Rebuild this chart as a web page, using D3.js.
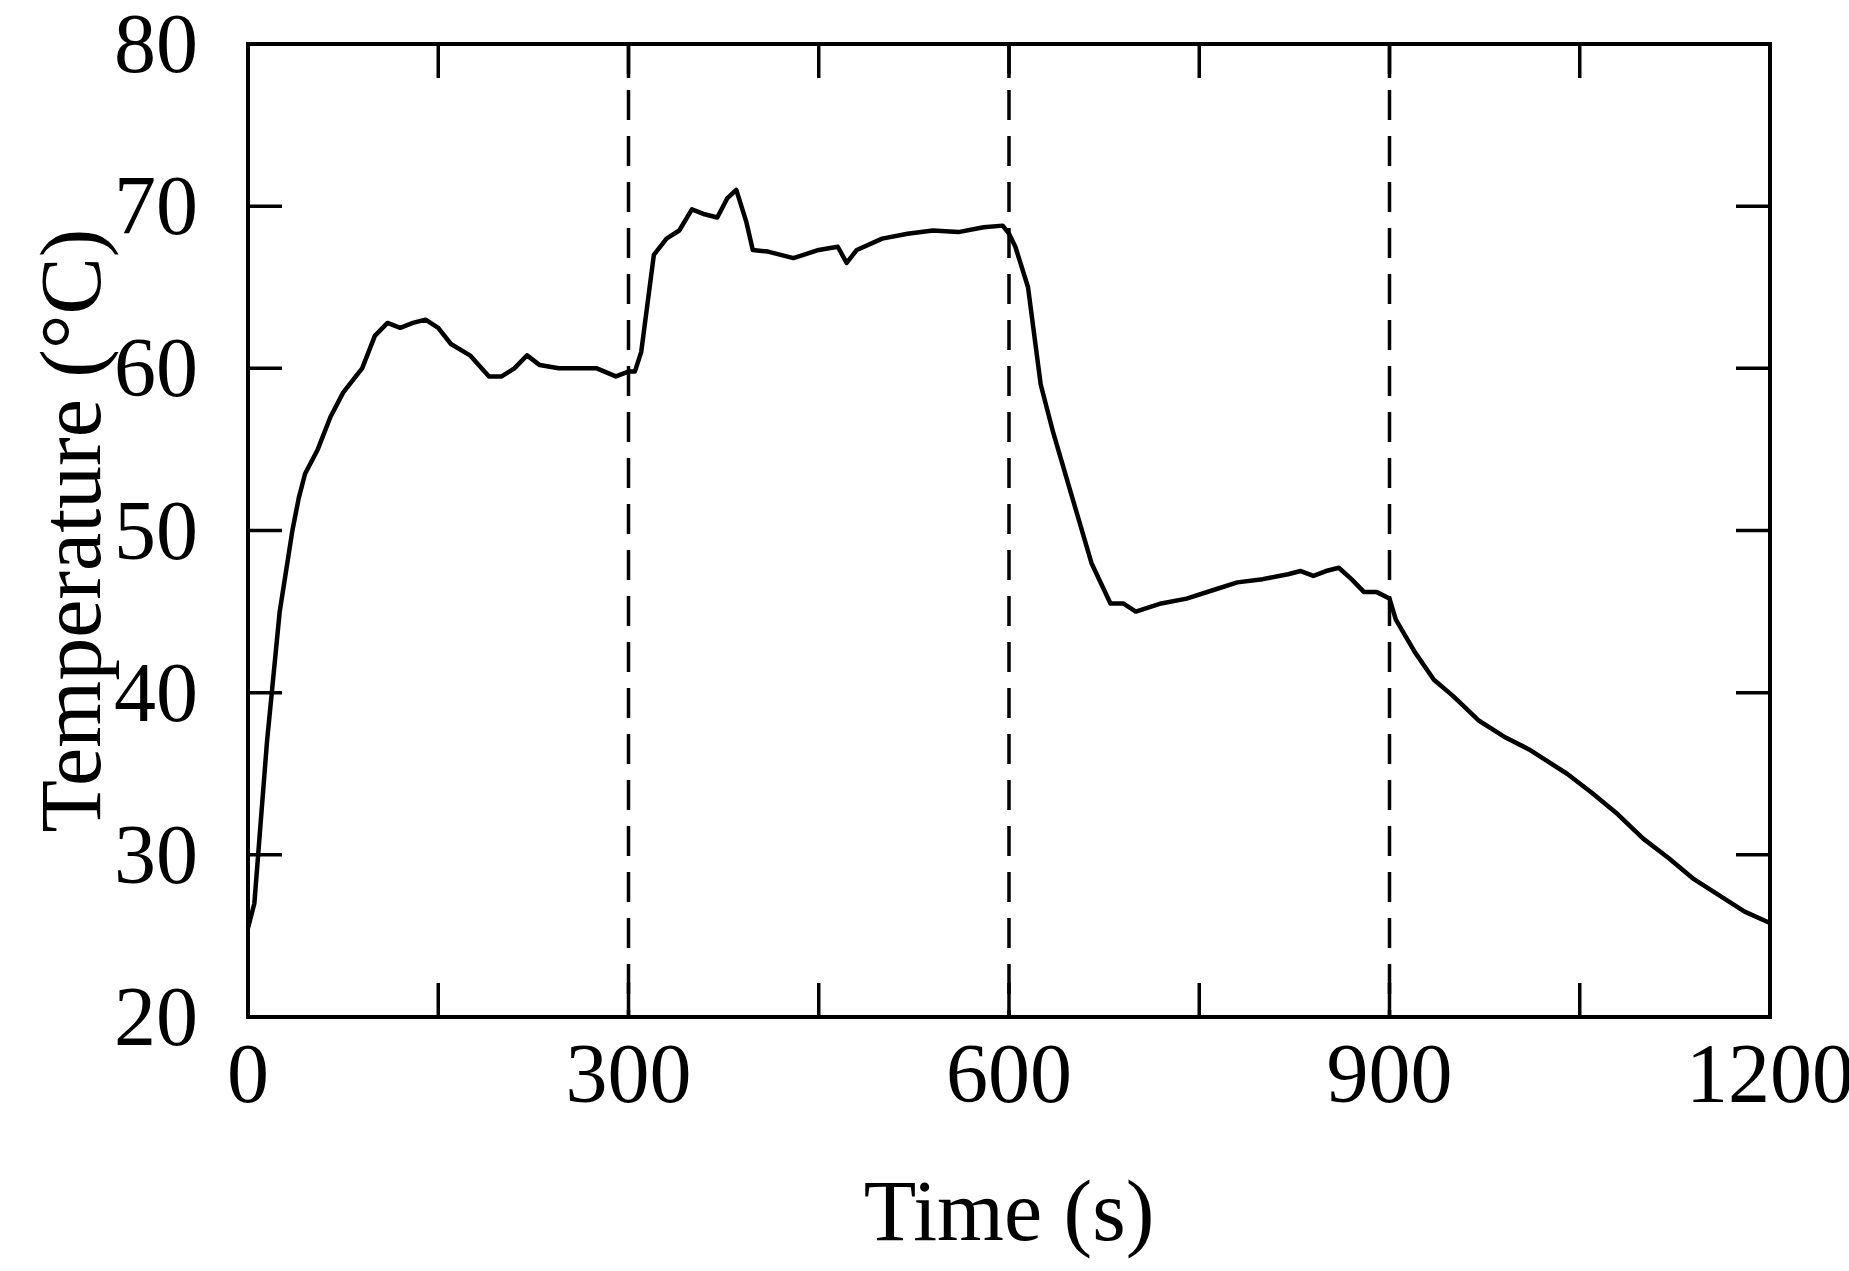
<!DOCTYPE html><html><head><meta charset="utf-8">
<script src="https://cdn.jsdelivr.net/npm/d3@7"></script>
<style>body{margin:0;background:#fff}text{font-family:"Liberation Serif","Times New Roman",serif}</style>
</head><body><svg id="c" width="1849" height="1271"></svg><script>
const times=[0,5,10,15,20,25,30,35,40,45,55,65,75,85,90,100,110,120,130,140,150,160,175,190,200,210,220,230,245,260,275,290,300,305,310,315,320,330,340,350,360,370,378,385,393,398,410,430,450,465,472,480,500,520,540,560,580,595,600,605,615,625,635,650,665,680,690,700,720,740,760,780,800,820,830,840,850,860,870,880,890,900,905,920,935,950,970,990,1010,1040,1060,1080,1100,1120,1140,1160,1180,1200];
const temps=[25.5,27,32,37,41,45,47.5,50,52,53.5,55,57,58.5,59.5,60,62,62.8,62.5,62.8,63,62.5,61.5,60.8,59.5,59.5,60,60.8,60.2,60,60,60,59.5,59.8,59.8,61,64,67,68,68.5,69.8,69.5,69.3,70.5,71,69,67.3,67.2,66.8,67.3,67.5,66.5,67.3,68,68.3,68.5,68.4,68.7,68.8,68.3,67.5,65,59,56,52,48,45.5,45.5,45,45.5,45.8,46.3,46.8,47,47.3,47.5,47.2,47.5,47.7,47,46.2,46.2,45.8,44.5,42.5,40.8,39.8,38.3,37.3,36.5,35,33.8,32.5,31,29.8,28.5,27.5,26.5,25.8];
const xTicks=[0,300,600,900,1200], xMinor=[150,450,750,1050];
const yTicks=[20,30,40,50,60,70,80];
const dividers=[300,600,900];
const L=248,R=1770,T=44,B=1017;
const svg=d3.select("#c");
const x=d3.scaleLinear().domain([0,1200]).range([L,R]);
const y=d3.scaleLinear().domain([20,80]).range([B,T]);
const g=svg.append("g");
dividers.forEach(d=>g.append("line").attr("x1",x(d)).attr("x2",x(d)).attr("y1",T).attr("y2",B).attr("stroke","#000").attr("stroke-width",3.5).attr("stroke-dasharray","30,16"));
g.append("path").datum(times.map((t,i)=>[t,temps[i]])).attr("fill","none").attr("stroke","#000").attr("stroke-width",4.5).attr("stroke-linejoin","round")
 .attr("d",d3.line().x(d=>x(d[0])).y(d=>y(d[1])));
const tk=34;
[...xTicks,...xMinor].forEach(t=>{g.append("line").attr("x1",x(t)).attr("x2",x(t)).attr("y1",B).attr("y2",B-tk).attr("stroke","#000").attr("stroke-width",3.5);
 g.append("line").attr("x1",x(t)).attr("x2",x(t)).attr("y1",T).attr("y2",T+tk).attr("stroke","#000").attr("stroke-width",3.5);});
yTicks.forEach(t=>{g.append("line").attr("x1",L).attr("x2",L+tk).attr("y1",y(t)).attr("y2",y(t)).attr("stroke","#000").attr("stroke-width",3.5);
 g.append("line").attr("x1",R).attr("x2",R-tk).attr("y1",y(t)).attr("y2",y(t)).attr("stroke","#000").attr("stroke-width",3.5);
 g.append("text").attr("x",L-50).attr("y",y(t)+28).attr("text-anchor","end").attr("font-size",84).text(t);});
xTicks.forEach(t=>g.append("text").attr("x",x(t)).attr("y",B+85).attr("text-anchor","middle").attr("font-size",84).text(t));
g.append("rect").attr("x",L).attr("y",T).attr("width",R-L).attr("height",B-T).attr("fill","none").attr("stroke","#000").attr("stroke-width",4);
g.append("text").attr("x",(L+R)/2).attr("y",1240).attr("text-anchor","middle").attr("font-size",86).text("Time (s)");
g.append("text").attr("transform",`translate(100,${(T+B)/2}) rotate(-90)`).attr("text-anchor","middle").attr("font-size",86).text("Temperature (°C)");
</script></body></html>
